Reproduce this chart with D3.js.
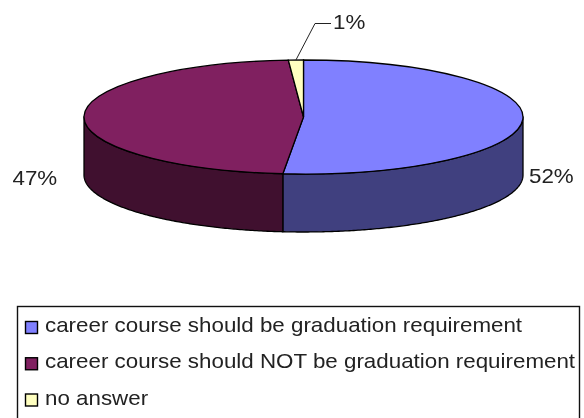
<!DOCTYPE html>
<html>
<head>
<meta charset="utf-8">
<script src="https://cdn.jsdelivr.net/npm/d3@7"></script>
<style>
  html, body { margin: 0; padding: 0; background: #fff; overflow: hidden; }
  svg { display: block; filter: blur(0.5px); }
  text { font-family: "Liberation Sans", Arial, sans-serif; fill: #222; }
</style>
</head>
<body>
<svg id="chart" width="584" height="418"></svg>
<script>
const categories = [
  "career course should be graduation requirement",
  "career course should NOT be graduation requirement",
  "no answer"
];
const seriesValues = [51.5, 47.4, 1.1];
const topColors = ["#8080ff", "#802060", "#ffffc0"];
const sideColors = ["#40407f", "#40102f", "#7f7f60"];

const width = 584, height = 418;
const cx = 303.5, cy = 117, rx = 219.5, ry = 57, depth = 58;
const fontSize = 20, textStretch = 1.118;

const svg = d3.select("#chart");

const pie = d3.pie().sort(null).value(d => d)
const slices = pie(seriesValues).map((d, i) => ({ ...d, i }));

// ellipse point for an angle measured clockwise from 12 o'clock
const px = a => cx + rx * Math.sin(a);
const py = a => cy - ry * Math.cos(a);

// side walls, only the front half (90deg to 270deg) can be seen
const sides = svg.append("g");
slices.forEach(d => {
  const a0 = Math.max(d.startAngle, Math.PI / 2);
  const a1 = Math.min(d.endAngle, Math.PI * 1.5);
  if (a1 <= a0) return;
  const steps = d3.range(a0, a1, 0.01).concat([a1]);
  const pts = steps.map(a => [px(a), py(a)])
    .concat(steps.slice().reverse().map(a => [px(a), py(a) + depth]));
  sides.append("path")
    .attr("d", d3.line()(pts) + "Z")
    .attr("fill", sideColors[d.i])
    .attr("stroke", "#000")
    .attr("stroke-width", 1.3)
    .attr("stroke-linejoin", "round");
});

// top face
const arc = d3.arc().innerRadius(0).outerRadius(rx);
svg.append("g")
  .attr("transform", `translate(${cx},${cy}) scale(1,${ry / rx})`)
  .selectAll("path")
  .data(slices)
  .join("path")
    .attr("d", arc)
    .attr("fill", d => topColors[d.i])
    .attr("stroke", "#000")
    .attr("stroke-width", 1.3)
    .attr("vector-effect", "non-scaling-stroke");

// data labels
const fmt = d => d3.format(".0f")(d) + "%";
const labelPos = [[529, 183], [12.5, 185], [333, 29]];
svg.append("g")
  .selectAll("text")
  .data(seriesValues)
  .join("text")
    .attr("transform", (d, i) => `translate(${labelPos[i][0]},${labelPos[i][1]}) scale(${textStretch},1)`)
    .attr("font-size", fontSize)
    .text(fmt);

// leader line for the small slice
const smallMid = (slices[2].startAngle + slices[2].endAngle) / 2;
svg.append("path")
  .attr("d", d3.line()([[px(smallMid), py(smallMid)], [315, 23.5], [331, 23.5]]))
  .attr("fill", "none")
  .attr("stroke", "#222")
  .attr("stroke-width", 1);

// legend
const legend = svg.append("g");
legend.append("rect")
  .attr("x", 17.5).attr("y", 306.5)
  .attr("width", 562).attr("height", 130)
  .attr("fill", "#fff")
  .attr("stroke", "#111")
  .attr("stroke-width", 1.4);

const rowY = d3.scalePoint().domain(d3.range(categories.length)).range([327, 399.5]);
const rows = legend.selectAll("g.row")
  .data(categories)
  .join("g")
    .attr("class", "row")
    .attr("transform", (d, i) => `translate(0,${rowY(i)})`);
rows.append("rect")
  .attr("x", 25.5).attr("y", -5.5)
  .attr("width", 12).attr("height", 12)
  .attr("fill", (d, i) => topColors[i])
  .attr("stroke", "#000")
  .attr("stroke-width", 1.4);
rows.append("text")
  .attr("transform", `translate(45,5) scale(${textStretch},1)`)
  .attr("font-size", fontSize)
  .text(d => d);
</script>
</body>
</html>
